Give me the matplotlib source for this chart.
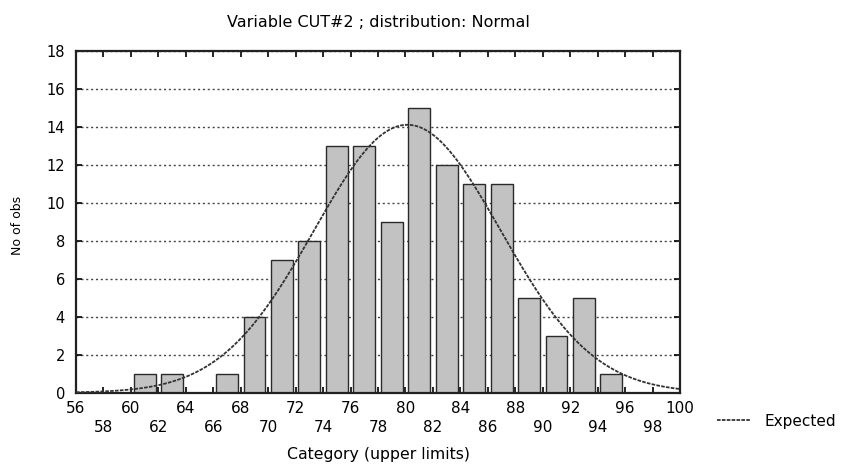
import numpy as np
import matplotlib
matplotlib.use('Agg')
import matplotlib.pyplot as plt
from matplotlib.ticker import MultipleLocator

# ---- dados (contagens por classe, largura 2) ----
lim_inf = [56, 58, 60, 62, 64, 66, 68, 70, 72, 74, 76, 78, 80, 82, 84, 86, 88, 90, 92, 94, 96, 98]
contagens = [0, 0, 1, 1, 0, 1, 4, 7, 8, 13, 13, 9, 15, 12, 11, 11, 5, 3, 5, 1, 0, 0]
largura = 2

titulo = 'Variable CUT#2 ; distribution: Normal'
xlab = 'Category (upper limits)'
ylab = 'No of obs'

plt.rcParams['font.family'] = ['DejaVu Sans']

lim_inf = np.array(lim_inf, dtype=float)
contagens = np.array(contagens, dtype=float)
centros = lim_inf + largura / 2

# curva normal esperada ajustada aos dados agrupados
n = contagens.sum()
media = (centros * contagens).sum() / n
dp = np.sqrt(((centros - media) ** 2 * contagens).sum() / (n - 1))
xs = np.linspace(56, 100, 400)
esperado = n * largura / (dp * np.sqrt(2 * np.pi)) * np.exp(-0.5 * ((xs - media) / dp) ** 2)

fig = plt.figure(figsize=(8.43, 4.67), dpi=100)
ax = fig.add_axes([0.0902, 0.159, 0.7165, 0.7324])

ax.bar(centros, contagens, width=largura * 0.8, color='#c2c2c2',
       edgecolor='#2a2a2a', linewidth=1.0, zorder=2)
ax.plot(xs, esperado, color='#333333', linewidth=1.3,
        linestyle=(0, (2, 0.7)), zorder=3, label='Expected')

ax.set_xlim(56, 100)
ax.set_ylim(0, 18)
ax.set_axisbelow(True)

ax.yaxis.set_major_locator(MultipleLocator(2))
ax.grid(axis='y', linestyle=(0, (1.5, 2)), color='#444444', linewidth=1.0)

# rotulos do eixo x em duas linhas
ax.set_xticks(np.arange(56, 101, 4))
ax.set_xticks(np.arange(58, 99, 4), minor=True)
ax.set_xticklabels([str(v) for v in range(56, 101, 4)], fontsize=11)
ax.set_xticklabels([str(v) for v in range(58, 99, 4)], minor=True, fontsize=11)
ax.tick_params(axis='x', which='major', direction='in', length=4, pad=6.2,
               top=True, width=1.2)
ax.tick_params(axis='x', which='minor', direction='in', length=4, pad=19.6,
               top=True, width=1.2)
ax.tick_params(axis='y', direction='in', length=4, right=True, width=1.2,
               labelsize=10.5, pad=8)

for s in ax.spines.values():
    s.set_linewidth(1.6)
    s.set_color('#222222')

ax.set_title(titulo, fontsize=11.5, pad=17)
ax.set_xlabel(xlab, fontsize=11.3, labelpad=8.5)
ax.set_ylabel(ylab, fontsize=9)
ax.yaxis.set_label_coords(-0.086, 0.49)

ax.legend(loc='center left', bbox_to_anchor=(1.038, -0.083), frameon=False,
          fontsize=11, handlelength=2.15, handletextpad=1.0)

fig.savefig('out.png', dpi=100)
